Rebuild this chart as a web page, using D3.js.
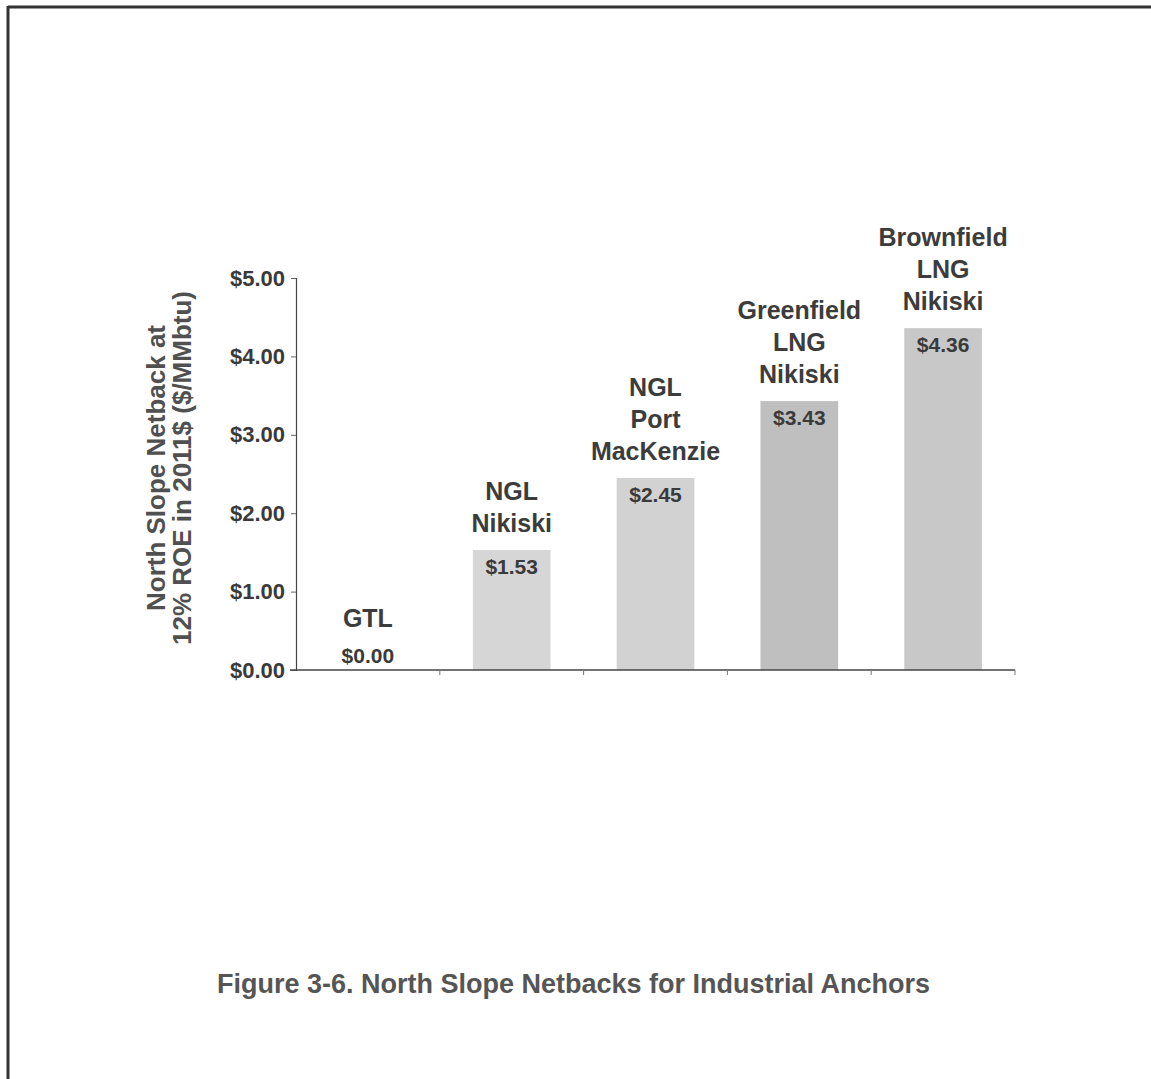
<!DOCTYPE html>
<html>
<head>
<meta charset="utf-8">
<script src="https://cdn.jsdelivr.net/npm/d3@7/dist/d3.min.js"></script>
<style>
  html, body { margin: 0; padding: 0; background: #fff; }
  svg { display: block; }
  text { font-family: "Liberation Sans", Arial, sans-serif; font-weight: bold; }
</style>
</head>
<body>
<svg id="chart" width="1151" height="1079"></svg>
<script>
// Industrial anchor options and their North Slope netbacks ($/MMbtu, 2011$)
const categories = [
  ["GTL"],
  ["NGL", "Nikiski"],
  ["NGL", "Port", "MacKenzie"],
  ["Greenfield", "LNG", "Nikiski"],
  ["Brownfield", "LNG", "Nikiski"]
];
const netbacks = [0.00, 1.53, 2.45, 3.43, 4.36];
const barColors = ["#d6d6d6", "#d6d6d6", "#d2d2d2", "#bfbfbf", "#c8c8c8"];
const yTicks = [0, 1, 2, 3, 4, 5];
const yTitle = ["North Slope Netback at", "12% ROE in 2011$ ($/MMbtu)"];
const caption = "Figure 3-6. North Slope Netbacks for Industrial Anchors";

const svg = d3.select("#chart");

// page frame (top and left rules)
svg.append("line").attr("x1", 8).attr("x2", 1151).attr("y1", 7).attr("y2", 7)
  .attr("stroke", "#333").attr("stroke-width", 3);
svg.append("line").attr("x1", 8).attr("x2", 8).attr("y1", 6).attr("y2", 1079)
  .attr("stroke", "#333").attr("stroke-width", 3);

const plot = { left: 296, right: 1015, top: 278, bottom: 670 };
const idx = d3.range(netbacks.length);

const x = d3.scaleBand().domain(idx).range([plot.left, plot.right]).paddingInner(0.46).paddingOuter(0.23);
const y = d3.scaleLinear().domain([0, 5]).range([plot.bottom, plot.top]);

// bars
svg.append("g").selectAll("rect").data(idx).join("rect")
  .attr("x", i => x(i))
  .attr("width", x.bandwidth())
  .attr("y", i => y(netbacks[i]))
  .attr("height", i => y(0) - y(netbacks[i]))
  .attr("fill", i => barColors[i]);

// y axis
const yAxis = svg.append("g").attr("transform", `translate(${plot.left},0)`)
  .call(d3.axisLeft(y).tickValues(yTicks).tickFormat(d => "$" + d3.format(".2f")(d)).tickSize(5).tickPadding(6));
yAxis.select(".domain").attr("stroke", "#444").attr("stroke-width", 1.2);
yAxis.selectAll(".tick line").attr("stroke", "#666");
yAxis.selectAll(".tick text").attr("fill", "#3a3a3a").style("font-size", "22px").style("font-weight", "bold")
  .style("font-family", "'Liberation Sans', Arial, sans-serif");

// x axis with boundary ticks between categories
const bounds = d3.range(netbacks.length + 1).map(k => plot.left + k * (plot.right - plot.left) / netbacks.length);
svg.append("line").attr("x1", plot.left - 6).attr("x2", plot.right).attr("y1", plot.bottom).attr("y2", plot.bottom)
  .attr("stroke", "#444").attr("stroke-width", 1.5);
svg.append("g").selectAll("line").data(bounds.slice(1)).join("line")
  .attr("x1", d => d).attr("x2", d => d).attr("y1", plot.bottom).attr("y2", plot.bottom + 5)
  .attr("stroke", "#777").attr("stroke-width", 1);

// value labels (inside bar top; GTL sits just above the axis)
svg.append("g").selectAll("text").data(idx).join("text")
  .attr("x", i => x(i) + x.bandwidth() / 2)
  .attr("y", i => netbacks[i] > 0 ? y(netbacks[i]) + 24 : y(0) - 7)
  .attr("text-anchor", "middle")
  .attr("fill", "#3a3a3a")
  .style("font-size", "21px")
  .text(i => "$" + d3.format(".2f")(netbacks[i]));

// category labels stacked above each bar
const lineH = 32;
idx.forEach(i => {
  const lines = categories[i];
  const base = netbacks[i] > 0 ? y(netbacks[i]) - 18 : y(0) - 43;
  const t = svg.append("text")
    .attr("x", x(i) + x.bandwidth() / 2)
    .attr("text-anchor", "middle")
    .attr("fill", "#3c3c3c")
    .style("font-size", "25px");
  lines.forEach((s, k) => {
    t.append("tspan").attr("x", x(i) + x.bandwidth() / 2)
      .attr("y", base - (lines.length - 1 - k) * lineH)
      .text(s);
  });
});

// y axis title (two rotated lines)
const yt = svg.append("text")
  .attr("transform", "translate(0,468) rotate(-90)")
  .attr("text-anchor", "middle")
  .attr("fill", "#505050")
  .style("font-size", "26px");
yTitle.forEach((s, k) => {
  yt.append("tspan").attr("x", 0).attr("y", 165 + k * 26).text(s);
});

// figure caption
svg.append("text")
  .attr("x", 217).attr("y", 993)
  .attr("fill", "#555")
  .style("font-size", "27px")
  .text(caption);
</script>
</body>
</html>
